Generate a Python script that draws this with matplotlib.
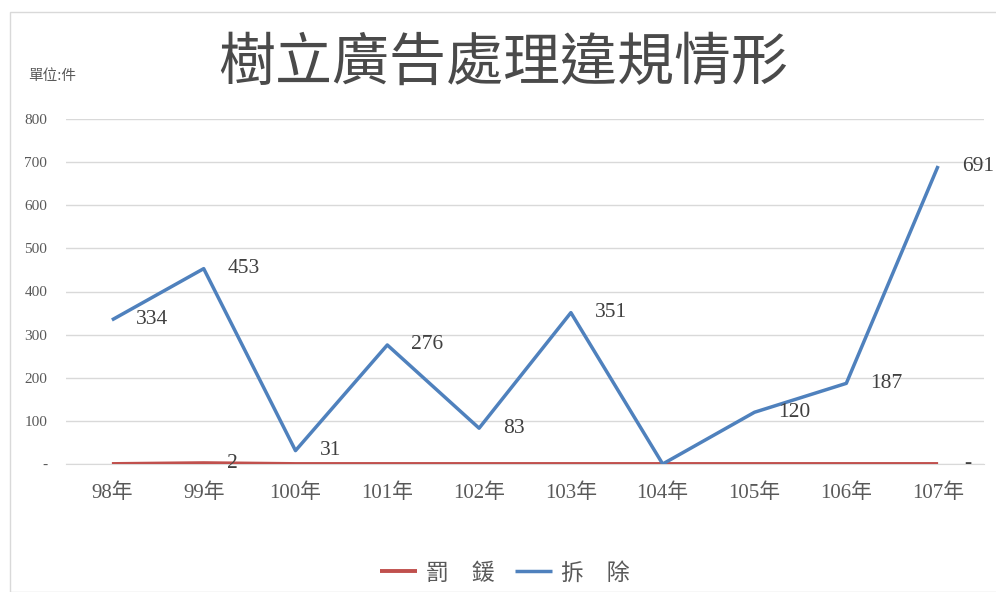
import matplotlib
matplotlib.use("Agg")
import matplotlib.pyplot as plt
from matplotlib.patches import Rectangle

years = ["98年", "99年", "100年", "101年", "102年", "103年", "104年", "105年", "106年", "107年"]
fines = [0, 2, 0, 0, 0, 0, 0, 0, 0, 0]
removals = [334, 453, 31, 276, 83, 351, 0, 120, 187, 691]
yticks = [0, 100, 200, 300, 400, 500, 600, 700, 800]
ytick_labels = ["-", "100", "200", "300", "400", "500", "600", "700", "800"]

SERIF = ["Liberation Serif", "Noto Sans CJK TC", "DejaVu Sans"]
CJK = ["Noto Sans CJK TC", "DejaVu Sans"]
BLUE = "#4F81BD"
RED = "#C0504D"
GRAY = "#595959"

fig = plt.figure(figsize=(9.96, 5.92), dpi=100)
fig.patches.append(Rectangle((10/996, 0), 1.2, 1 - 12/592, transform=fig.transFigure,
                             fill=False, edgecolor="#D9D9D9", linewidth=1))

ax = fig.add_axes([66/996, 1 - 464/592, (984 - 66)/996, (464 - 119)/592])
x = list(range(len(years)))
ax.set_xlim(-0.5, len(years) - 0.5)
ax.set_ylim(0, 800)
ax.set_yticks(yticks)
ax.set_yticklabels(ytick_labels, family=SERIF, fontsize=11, color=GRAY)
ax.set_xticks(x)
ax.set_xticklabels(years, family=SERIF, fontsize=15, color=GRAY)
ax.tick_params(axis="both", length=0)
ax.tick_params(axis="y", pad=13.5)
ax.tick_params(axis="x", pad=14)
for s in ["top", "right", "left"]:
    ax.spines[s].set_visible(False)
ax.spines["bottom"].set_color("#D9D9D9")
ax.grid(axis="y", color="#D9D9D9", linewidth=1)
ax.set_axisbelow(True)

l1, = ax.plot(x, fines, color=RED, linewidth=2.8, solid_capstyle="butt", label="罰　鍰", zorder=3)
l2, = ax.plot(x, removals, color=BLUE, linewidth=2.5, solid_capstyle="butt", label="拆　除", zorder=4)

for xi, v in zip(x, removals):
    if v:
        ax.annotate(str(v), (xi, v), xytext=(24, 0), textcoords="offset pixels",
                    va="center", ha="left", family=SERIF, fontsize=15.5, color="#404040",
                    annotation_clip=False, zorder=5)
for xi, v in zip(x, fines):
    if v:
        ax.annotate(str(v), (xi, v), xytext=(23, 0), textcoords="offset pixels",
                    va="center", ha="left", family=SERIF, fontsize=15.5, color="#404040",
                    annotation_clip=False, zorder=5)
ax.annotate("-", (x[-1], fines[-1]), xytext=(26, 0), textcoords="offset pixels",
            va="center", ha="left", family=SERIF, fontsize=15.5, color="#404040",
            annotation_clip=False, zorder=5)

fig.text(503/996, 1 - 64/592, "樹立廣告處理違規情形", family=CJK, fontsize=41,
         color="#4A4A4A", ha="center", va="center")
fig.text(28/996, 1 - 76/592, "單位:件", family=CJK, fontsize=10.5, color=GRAY,
         ha="left", va="center")

leg = fig.legend(handles=[l1, l2], loc="center", bbox_to_anchor=(505/996, 1 - 573/592),
                 ncol=2, frameon=False, prop={"family": CJK, "size": 16.5},
                 handlelength=1.6, handletextpad=0.4, columnspacing=0.9)
for t in leg.get_texts():
    t.set_color(GRAY)

fig.savefig("out.png", dpi=100)
